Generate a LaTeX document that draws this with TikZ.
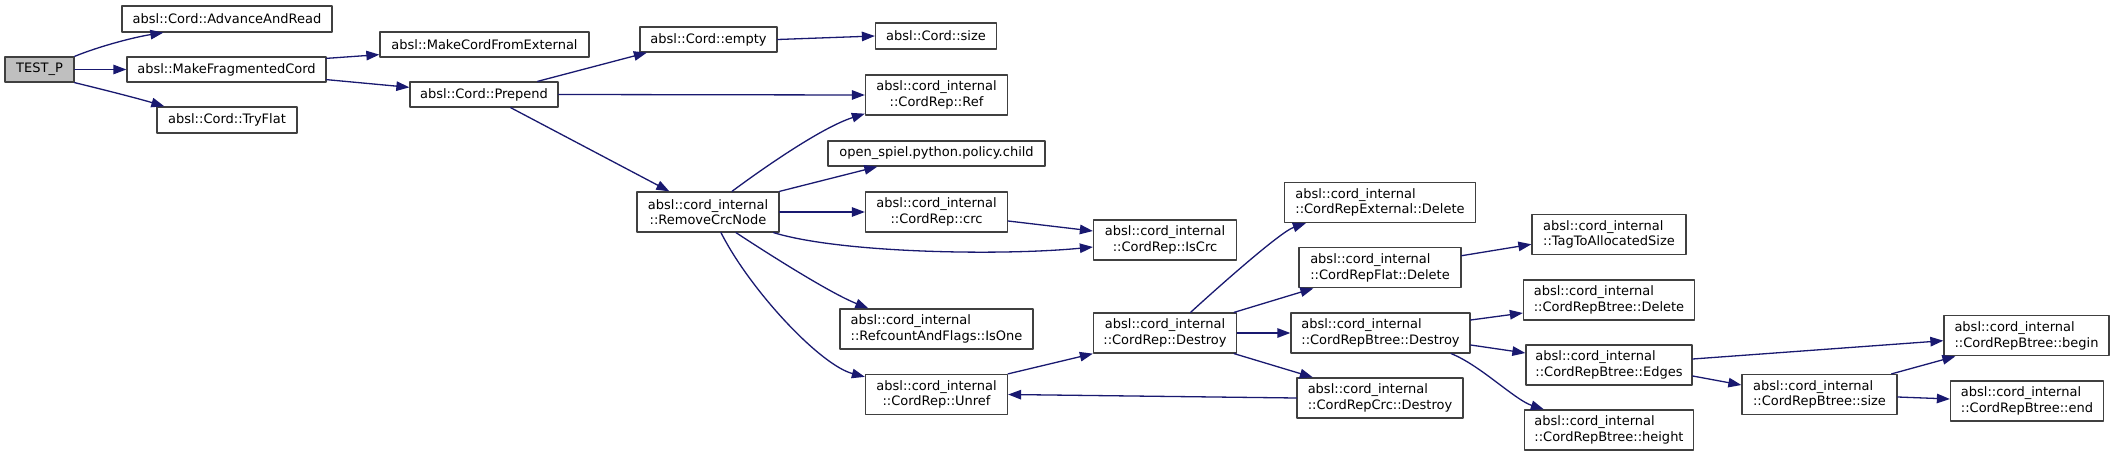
\documentclass[tikz,border=0pt]{standalone}
\usepackage{fontspec}
\setmainfont{DejaVu Sans}
\usetikzlibrary{arrows.meta}

\definecolor{edgeblue}{HTML}{191970}
\definecolor{boxgray}{HTML}{404040}
\definecolor{rootgray}{HTML}{BFBFBF}

\tikzset{
  callbox/.style={draw=boxgray, line width=1.3pt, fill=white, inner sep=0pt,
    align=center, font=\fontsize{13}{15.6}\selectfont},
  callboxl/.style={callbox, align=left},
  callarrow/.style={draw=edgeblue, line width=1.3pt,
    -{Triangle[length=13pt,width=9.5pt]}},
}

\begin{document}
\begin{tikzpicture}[x=1pt, y=-1pt, line cap=round, line join=round]

  \fill[white] (0,0) rectangle (2115,457);

  %% ════ nodes, column by column ════
  \node[callbox, fill=rootgray, minimum width=69pt, minimum height=25pt] (testp) at (39.5,69.5) {TEST\_P};

  \node[callbox, minimum width=210pt, minimum height=26pt] (advread) at (227,19) {absl::Cord::AdvanceAndRead};
  \node[callbox, minimum width=199pt, minimum height=25pt] (mkfrag) at (226.5,69.5) {absl::MakeFragmentedCord};
  \node[callbox, minimum width=140pt, minimum height=26pt] (tryflat) at (227,120) {absl::Cord::TryFlat};

  \node[callbox, minimum width=209pt, minimum height=25pt] (mkext) at (484.5,44.5) {absl::MakeCordFromExternal};
  \node[callbox, minimum width=148pt, minimum height=25pt] (prepend) at (484,94.5) {absl::Cord::Prepend};

  \node[callbox, minimum width=137pt, minimum height=25pt] (empty) at (708.5,39.5) {absl::Cord::empty};
  \node[callbox, minimum width=142pt, minimum height=40pt] (rmcrc) at (708,212) {absl::cord\_internal\\::RemoveCrcNode};

  \node[callbox, minimum width=121pt, minimum height=26pt] (csize) at (936,36) {absl::Cord::size};
  \node[callbox, minimum width=142pt, minimum height=40pt] (ref) at (936.5,95) {absl::cord\_internal\\::CordRep::Ref};
  \node[callbox, minimum width=217pt, minimum height=25pt] (child) at (936.5,153.5) {open\_spiel.python.policy.child};
  \node[callbox, minimum width=142pt, minimum height=40pt] (crc) at (936.5,212) {absl::cord\_internal\\::CordRep::crc};
  \node[callboxl, minimum width=193pt, minimum height=40pt] (isone) at (936.5,329) {absl::cord\_internal\\::RefcountAndFlags::IsOne};
  \node[callbox, minimum width=142pt, minimum height=40pt] (unref) at (936.5,394.5) {absl::cord\_internal\\::CordRep::Unref};

  \node[callbox, minimum width=143pt, minimum height=40pt] (iscrc) at (1165,240) {absl::cord\_internal\\::CordRep::IsCrc};
  \node[callbox, minimum width=143pt, minimum height=40pt] (destroy) at (1165,333) {absl::cord\_internal\\::CordRep::Destroy};

  \node[callboxl, minimum width=191pt, minimum height=40pt] (extdel) at (1380,202.5) {absl::cord\_internal\\::CordRepExternal::Delete};
  \node[callboxl, minimum width=162pt, minimum height=40pt] (flatdel) at (1380,267.7) {absl::cord\_internal\\::CordRepFlat::Delete};
  \node[callboxl, minimum width=179pt, minimum height=40pt] (btdestroy) at (1380.5,333) {absl::cord\_internal\\::CordRepBtree::Destroy};
  \node[callboxl, minimum width=166pt, minimum height=40pt] (crcdestroy) at (1380,398) {absl::cord\_internal\\::CordRepCrc::Destroy};

  \node[callboxl, minimum width=154pt, minimum height=40pt] (tagsize) at (1609,234.3) {absl::cord\_internal\\::TagToAllocatedSize};
  \node[callboxl, minimum width=171pt, minimum height=40pt] (btdelete) at (1609,300) {absl::cord\_internal\\::CordRepBtree::Delete};
  \node[callboxl, minimum width=166pt, minimum height=40pt] (btedges) at (1609,365) {absl::cord\_internal\\::CordRepBtree::Edges};
  \node[callboxl, minimum width=169pt, minimum height=40pt] (btheight) at (1609,430) {absl::cord\_internal\\::CordRepBtree::height};

  \node[callboxl, minimum width=155pt, minimum height=40pt] (btsize) at (1819.5,394.5) {absl::cord\_internal\\::CordRepBtree::size};

  \node[callboxl, minimum width=165pt, minimum height=40pt] (btbegin) at (2026.5,335.7) {absl::cord\_internal\\::CordRepBtree::begin};
  \node[callboxl, minimum width=153pt, minimum height=40pt] (btend) at (2027,401) {absl::cord\_internal\\::CordRepBtree::end};

  %% ════ calls ════
  \draw[callarrow] (testp.north east) .. controls (100,46) and (135,37) .. ([xshift=42pt]advread.south west);
  \draw[callarrow] (testp.east) -- (mkfrag.west);
  \draw[callarrow] (testp.south east) .. controls (105,90) and (140,99) .. ([xshift=8pt]tryflat.north west);

  \draw[callarrow] ([yshift=-2pt]mkfrag.north east) -- ([yshift=3pt]mkext.south west);
  \draw[callarrow] ([yshift=3pt]mkfrag.south east) -- ([yshift=-6pt]prepend.north west);

  \draw[callarrow] ([xshift=-21pt]prepend.north east) -- ([xshift=7.5pt]empty.south west);
  \draw[callarrow] (empty.east) -- (csize.west);
  \draw[callarrow] (prepend.east) -- (ref.west);
  \draw[callarrow] ([xshift=-48pt]prepend.south east) -- ([xshift=33pt]rmcrc.north west);

  % RemoveCrcNode fans out
  \draw[callarrow] ([xshift=24pt]rmcrc.north) .. controls (758,172) and (820,128) .. ([yshift=2pt]ref.south west);
  \draw[callarrow] (rmcrc.north east) -- ([xshift=50pt]child.south west);
  \draw[callarrow] (rmcrc.east) -- (crc.west);
  \draw[callarrow] ([yshift=-9pt]crc.east) -- ([yshift=9pt]iscrc.west);
  \draw[callarrow] ([xshift=-6pt]rmcrc.south east) .. controls (840,253) and (1000,256) .. ([yshift=-7pt]iscrc.west);
  \draw[callarrow] ([xshift=28pt]rmcrc.south) .. controls (770,255) and (830,293) .. ([xshift=29pt]isone.north west);
  \draw[callarrow] ([xshift=13pt]rmcrc.south) .. controls (750,290) and (820,365) .. ([yshift=-3pt]unref.north west);

  \draw[callarrow] (unref.north east) -- (destroy.south west);

  % CordRep::Destroy
  \draw[callarrow] ([xshift=25.6pt]destroy.north) .. controls (1215,290) and (1280,232) .. ([xshift=22pt]extdel.south west);
  \draw[callarrow] ([xshift=-3pt]destroy.north east) -- ([xshift=15pt]flatdel.south west);
  \draw[callarrow] (destroy.east) -- (btdestroy.west);
  \draw[callarrow] ([xshift=-3pt]destroy.south east) -- ([xshift=16.5pt]crcdestroy.north west);
  \draw[callarrow] (crcdestroy.west) -- (unref.east);

  \draw[callarrow] ([yshift=12pt]flatdel.east) -- ([yshift=-10pt]tagsize.west);

  % CordRepBtree::Destroy
  \draw[callarrow] ([yshift=13pt]btdestroy.east) -- ([yshift=-13pt]btdelete.west);
  \draw[callarrow] ([yshift=-12pt]btdestroy.east) -- ([yshift=12pt]btedges.west);
  \draw[callarrow] ([xshift=-19.5pt]btdestroy.south east) .. controls (1480,365) and (1515,400) .. ([xshift=20pt]btheight.north west);

  \draw[callarrow] ([yshift=6pt]btedges.east) -- ([yshift=-5pt]btbegin.west);
  \draw[callarrow] ([yshift=-11pt]btedges.east) -- ([yshift=9.5pt]btsize.west);
  \draw[callarrow] ([xshift=-6pt]btsize.north east) -- ([xshift=12pt]btbegin.south west);
  \draw[callarrow] ([yshift=-2.5pt]btsize.east) -- ([yshift=2pt]btend.west);

  % fix the canvas to the reference size
  \pgfresetboundingbox
  \path[use as bounding box] (0,0) rectangle (2115,457);
\end{tikzpicture}
\end{document}
